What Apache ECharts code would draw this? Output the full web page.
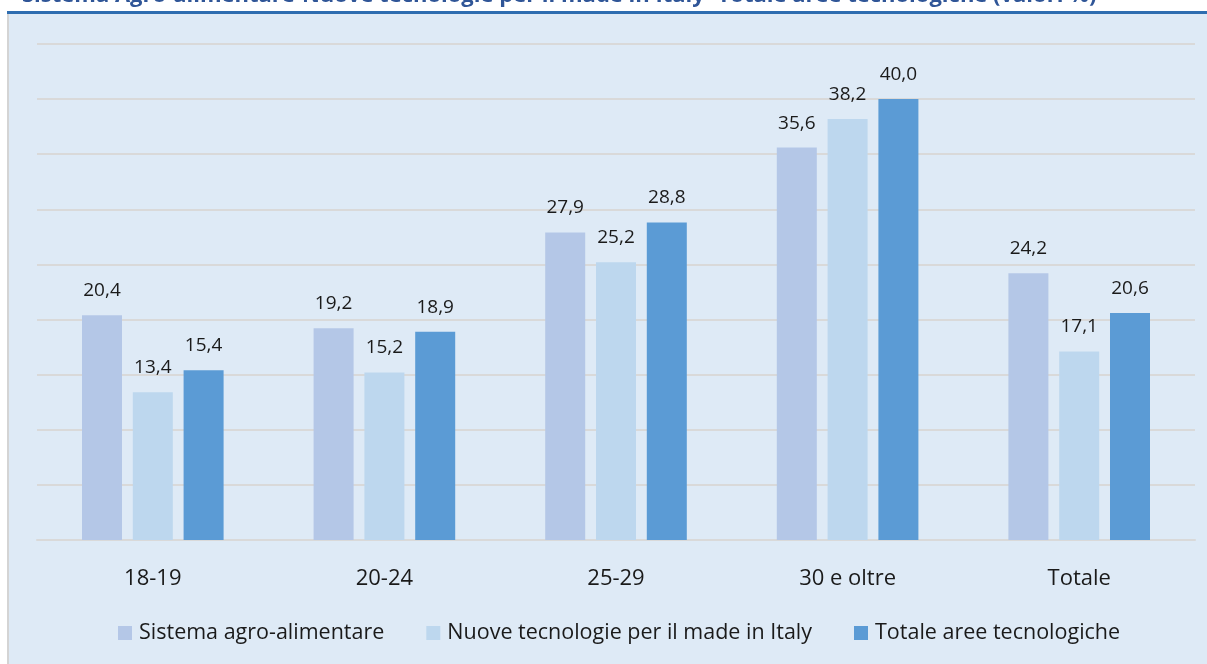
<!DOCTYPE html>
<html><head><meta charset="utf-8">
<script src="https://cdn.jsdelivr.net/npm/echarts@6/dist/echarts.min.js"></script>
<style>html,body{margin:0;padding:0;background:#fff}#c{width:1207px;height:664px}</style>
</head><body><div id="c"></div>
<script>
var categories = ['18-19', '20-24', '25-29', '30 e oltre', 'Totale'];
var seriesNames = ['Sistema agro-alimentare', 'Nuove tecnologie per il made in Italy', 'Totale aree tecnologiche'];
var agroAlimentare = [20.4, 19.2, 27.9, 35.6, 24.2];
var nuoveTecnologie = [13.4, 15.2, 25.2, 38.2, 17.1];
var totaleAree = [15.4, 18.9, 28.8, 40.0, 20.6];
var titleText = 'Sistema Agro-alimentare-Nuove tecnologie per il made in Italy- Totale aree tecnologiche (valori %)';

var colors = ['#B4C7E7', '#BDD7EE', '#5B9BD5'];
var font = '"Open Sans", "Noto Sans", sans-serif';
var chart = echarts.init(document.getElementById('c'), null, {renderer: 'canvas'});
function mkSeries(name, data, color) {
  return {
    name: name, type: 'bar', data: data, barWidth: 40, barGap: '27%',
    itemStyle: {color: color},
    label: {show: true, position: 'top', distance: 15, color: '#1a1a1a', fontSize: 19, fontFamily: font,
      formatter: function (p) { return p.value.toFixed(1).replace('.', ','); }}
  };
}
chart.setOption({
  backgroundColor: '#ffffff',
  animation: false,
  graphic: [
    {type: 'rect', left: 7, top: 14, shape: {width: 1200, height: 650}, style: {fill: '#DEEAF6'}, z: -10},
    {type: 'rect', left: 7, top: 14, shape: {width: 2, height: 650}, style: {fill: '#D4D4D4'}, z: -9},
    {type: 'rect', left: 7, top: 11, shape: {width: 1200, height: 3}, style: {fill: '#2E6DB0'}, z: -9},
    {type: 'text', x: 22, y: -4, style: {text: titleText, fill: '#2F5597', font: 'bold 22px ' + font, verticalAlign: 'middle', align: 'left'}, z: 10}
  ],
  legend: {
    bottom: 15, left: 113, icon: 'rect', itemWidth: 14, itemHeight: 14, itemGap: 42,
    textStyle: {fontSize: 21.5, color: '#1a1a1a', fontFamily: font, padding: [0, 0, 0, 2]},
    data: seriesNames
  },
  grid: {left: 37, right: 12, top: 44, bottom: 124},
  xAxis: {
    type: 'category', data: categories,
    axisLine: {lineStyle: {color: '#D9D9D9', width: 2}}, axisTick: {show: false},
    axisLabel: {fontSize: 22, color: '#1a1a1a', margin: 28, fontFamily: font}
  },
  yAxis: {
    type: 'value', min: 0, max: 45, interval: 5,
    axisLabel: {show: false}, axisLine: {show: false}, axisTick: {show: false},
    splitLine: {lineStyle: {color: '#D9D9D9', width: 2}}
  },
  series: [
    mkSeries(seriesNames[0], agroAlimentare, colors[0]),
    mkSeries(seriesNames[1], nuoveTecnologie, colors[1]),
    mkSeries(seriesNames[2], totaleAree, colors[2])
  ]
});
</script></body></html>
